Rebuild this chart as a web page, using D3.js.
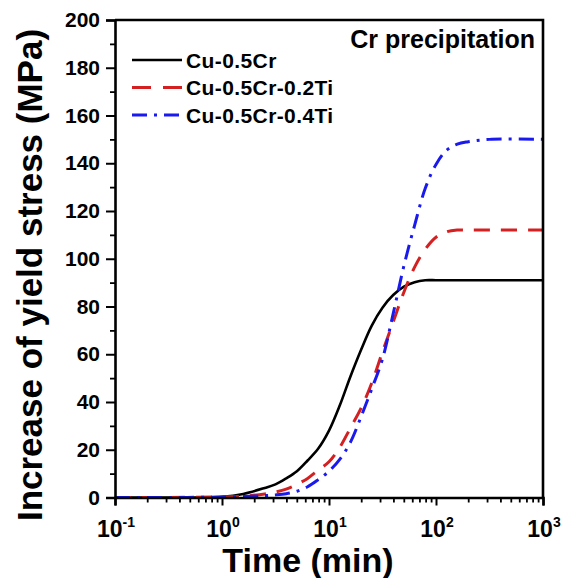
<!DOCTYPE html>
<html>
<head>
<meta charset="utf-8">
<script src="https://cdn.jsdelivr.net/npm/d3@7"></script>
<style>
  html, body { margin: 0; padding: 0; background: #fff; }
  svg { display: block; }
  text { font-family: "Liberation Sans", Arial, sans-serif; font-weight: bold; fill: #000; }
</style>
</head>
<body>
<svg id="chart" width="565" height="578"></svg>
<script>
// ---- data (time in minutes, increase of yield stress in MPa) ----
const times      = [0.1, 0.32, 1, 1.58, 2.51, 3.16, 3.98, 5.01, 6.31, 7.94, 10, 12.6, 15.8, 20, 25.1, 31.6, 39.8, 50.1, 63.1, 79.4, 100, 126, 158, 200, 316, 1000];
const cuCr       = [0, 0, 0.3, 1.5, 4, 5.5, 8, 11, 15.5, 20.5, 28, 38.5, 50.5, 62, 72, 79.5, 84.8, 88.3, 90.2, 91, 91, 91, 91, 91, 91, 91];
const cuCrTi02   = [0, 0, 0.3, 0.5, 1.5, 2.3, 3.5, 5.5, 8, 11.5, 15, 21, 29, 37.5, 48, 61, 73.5, 86, 96.5, 104, 109, 111.3, 112, 112, 112, 112];
const cuCrTi04   = [0, 0, 0.2, 0.4, 0.8, 1.1, 1.6, 2.6, 4.5, 7.5, 11, 16, 23, 34, 45.5, 58, 77, 97, 114, 129.5, 139.5, 145.5, 148, 149, 150, 150];
const seriesNames = ["Cu-0.5Cr", "Cu-0.5Cr-0.2Ti", "Cu-0.5Cr-0.4Ti"];
const seriesColors = ["#000000", "#d42020", "#1a1aee"];
const seriesDash = [null, "16,11", "15,7,3,7"];
const xTickExps = [-1, 0, 1, 2, 3];
const yTicks = [0, 20, 40, 60, 80, 100, 120, 140, 160, 180, 200];
const yMinorTicks = [10, 30, 50, 70, 90, 110, 130, 150, 170, 190];
const xTitle = "Time (min)";
const yTitle = "Increase of yield stress (MPa)";
const annotation = "Cr precipitation";

const seriesValues = [cuCr, cuCrTi02, cuCrTi04];

const svg = d3.select("#chart");
const L = 115, R = 543, T = 20, B = 497.5;

const x = d3.scaleLog().domain([0.1, 1000]).range([L, R]);
const y = d3.scaleLinear().domain([0, 200]).range([B, T]);

// clip
svg.append("defs").append("clipPath").attr("id", "clip")
  .append("rect").attr("x", L).attr("y", T).attr("width", R - L).attr("height", B - T);

// curves
const line = d3.line()
  .x(d => x(d[0])).y(d => y(d[1]))
  .curve(d3.curveCatmullRom.alpha(0.5));

seriesValues.forEach((vals, i) => {
  const pts = times.map((t, k) => [t, vals[k]]);
  svg.append("path")
    .attr("d", line(pts))
    .attr("clip-path", "url(#clip)")
    .attr("fill", "none")
    .attr("stroke", seriesColors[i])
    .attr("stroke-width", i === 0 ? 2.6 : 3)
    .attr("stroke-dasharray", seriesDash[i]);
});

// frame (top and right)
svg.append("path")
  .attr("d", `M${L},${T}H${R}V${B}`)
  .attr("fill", "none").attr("stroke", "#000").attr("stroke-width", 2.6);

// x axis
const xMajor = xTickExps.map(e => Math.pow(10, e));
const xMinor = [];
for (let e = -1; e < 3; e++) for (let m = 2; m <= 9; m++) xMinor.push(m * Math.pow(10, e));

const xAxisG = svg.append("g").attr("transform", `translate(0,${B})`)
  .call(d3.axisBottom(x).tickValues(xMajor).tickSize(8).tickFormat(""));
xAxisG.select(".domain").attr("stroke-width", 2.6);
xAxisG.selectAll(".tick line").attr("stroke-width", 2);
svg.append("g").attr("transform", `translate(0,${B})`)
  .call(d3.axisBottom(x).tickValues(xMinor).tickSize(5).tickFormat(""))
  .call(g => g.select(".domain").remove())
  .selectAll(".tick line").attr("stroke-width", 1.8);

// x tick labels with superscripts
xTickExps.forEach(e => {
  const t = svg.append("text")
    .attr("x", x(Math.pow(10, e)) + 1)
    .attr("y", 537)
    .attr("text-anchor", "middle")
    .style("font-size", "23px");
  t.append("tspan").text("10");
  t.append("tspan").attr("dy", -10).style("font-size", "14px").text(e < 0 ? "-" + Math.abs(e) : String(e));
});

// y axis
const yAxisG = svg.append("g").attr("transform", `translate(${L},0)`)
  .call(d3.axisLeft(y).tickValues(yTicks).tickSize(9).tickPadding(6).tickFormat(d3.format("d")));
yAxisG.select(".domain").attr("stroke-width", 2.6);
yAxisG.selectAll(".tick line").attr("stroke-width", 2);
yAxisG.selectAll(".tick text")
  .style("font-size", "21px")
  .style("font-family", "'Liberation Sans', Arial, sans-serif")
  .style("font-weight", "bold")
  .attr("fill", "#000");
svg.append("g").attr("transform", `translate(${L},0)`)
  .call(d3.axisLeft(y).tickValues(yMinorTicks).tickSize(5).tickFormat(""))
  .call(g => g.select(".domain").remove())
  .selectAll(".tick line").attr("stroke-width", 1.8);

// axis titles
svg.append("text")
  .attr("x", 308).attr("y", 572)
  .attr("text-anchor", "middle")
  .style("font-size", "34px")
  .text(xTitle);

svg.append("text")
  .attr("transform", "translate(42,275) rotate(-90)")
  .attr("text-anchor", "middle")
  .style("font-size", "35px")
  .text(yTitle);

// annotation
svg.append("text")
  .attr("x", 535).attr("y", 48)
  .attr("text-anchor", "end")
  .style("font-size", "25px")
  .text(annotation);

// legend
const legY = [60, 87.5, 115];
seriesNames.forEach((name, i) => {
  svg.append("line")
    .attr("x1", 132).attr("x2", 182)
    .attr("y1", legY[i]).attr("y2", legY[i])
    .attr("stroke", seriesColors[i])
    .attr("stroke-width", i === 0 ? 2.6 : 3)
    .attr("stroke-dasharray", i === 1 ? "19,12" : seriesDash[i]);
  svg.append("text")
    .attr("x", 186).attr("y", legY[i] + 7.5)
    .style("font-size", "21px")
    .style("letter-spacing", "0.4px")
    .text(name);
});
</script>
</body>
</html>
